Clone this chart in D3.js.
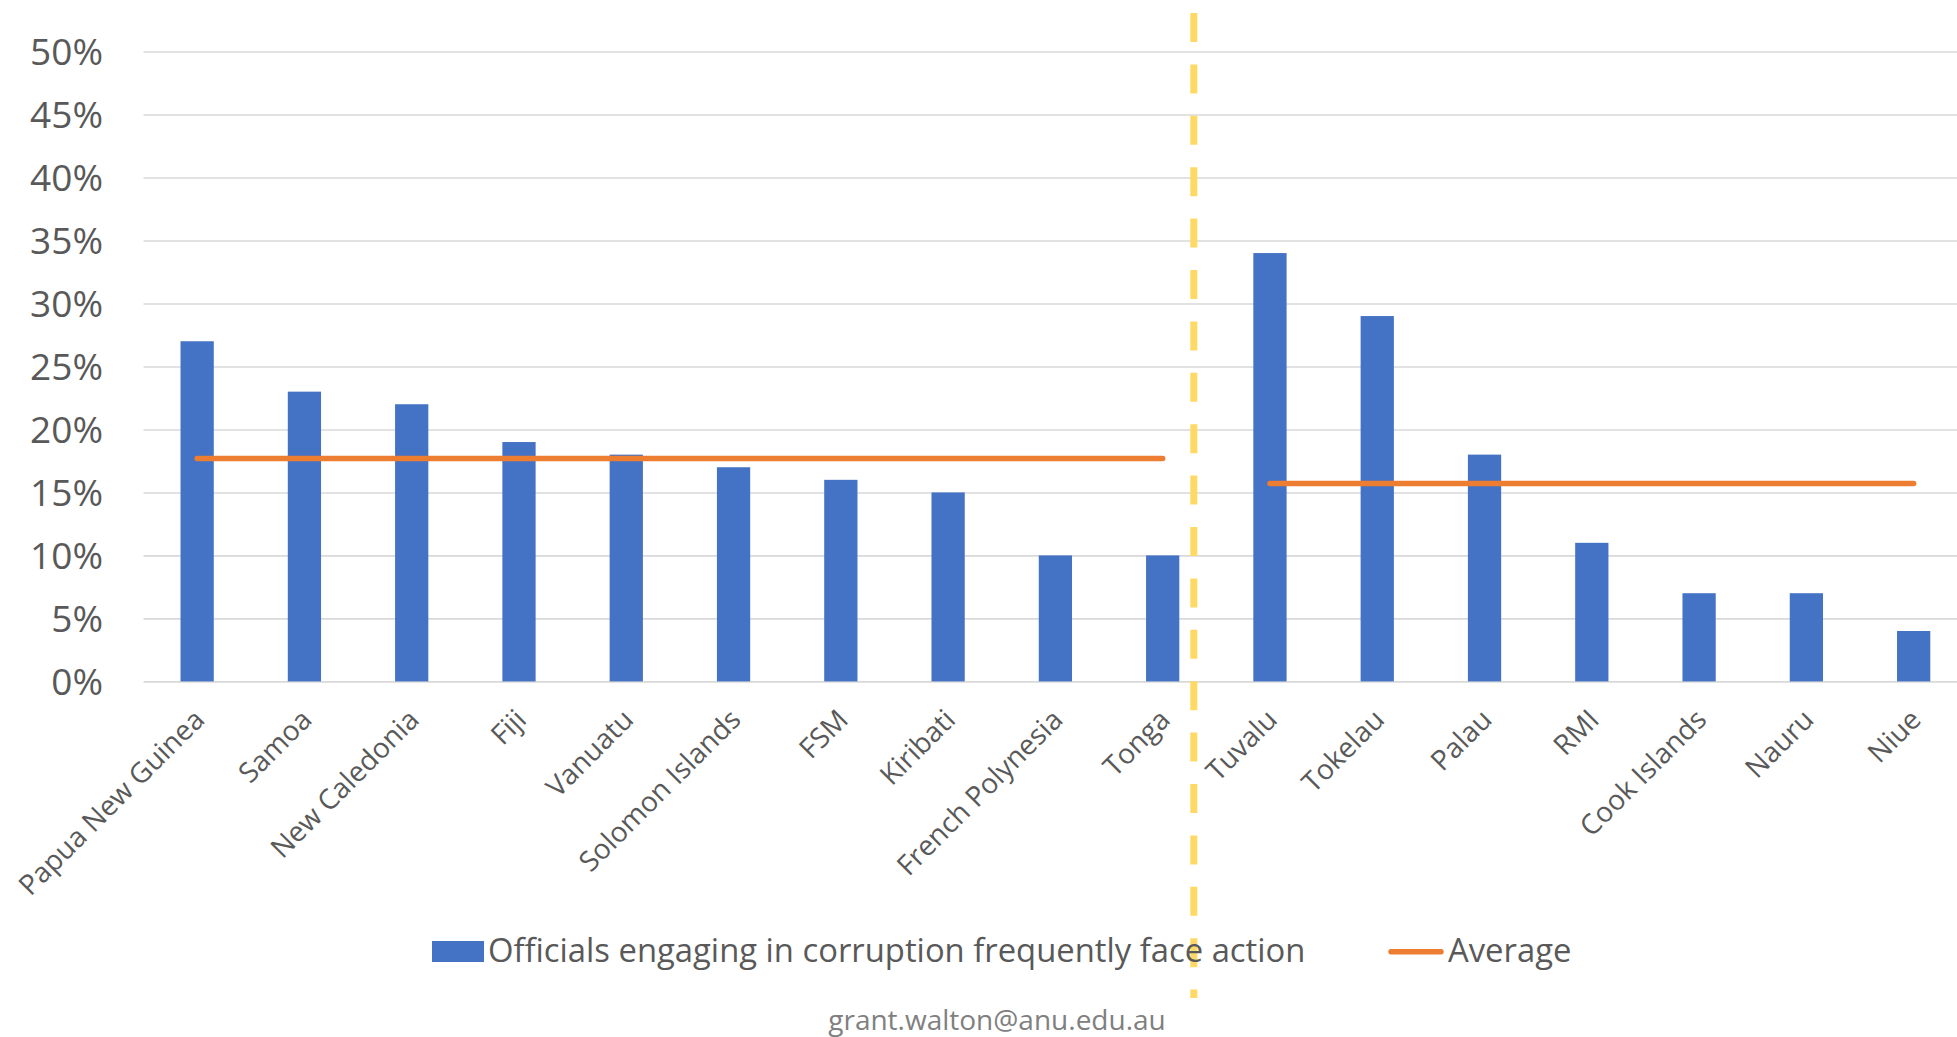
<!DOCTYPE html>
<html>
<head>
<meta charset="utf-8">
<script src="https://cdn.jsdelivr.net/npm/d3@7"></script>
<style>
  html, body { margin: 0; padding: 0; background: #fff; }
  svg { display: block; font-family: "Open Sans", "Noto Sans", sans-serif; }
</style>
</head>
<body>
<svg id="chart" width="1957" height="1037"></svg>
<script>
// Pacific countries, two groups split by the dashed divider
const countries = [
  "Papua New Guinea", "Samoa", "New Caledonia", "Fiji", "Vanuatu",
  "Solomon Islands", "FSM", "Kiribati", "French Polynesia", "Tonga",
  "Tuvalu", "Tokelau", "Palau", "RMI", "Cook Islands", "Nauru", "Niue"
];
// Share (%) saying officials engaging in corruption frequently face action
const actionShare = [27, 23, 22, 19, 18, 17, 16, 15, 10, 10, 34, 29, 18, 11, 7, 7, 4];
// Group membership and group averages (%)
const groupA = countries.slice(0, 10);
const groupB = countries.slice(10);
const groupAverages = [17.7, 15.7];
const yTicks = [0, 5, 10, 15, 20, 25, 30, 35, 40, 45, 50];
const seriesName = "Officials engaging in corruption frequently face action";
const averageName = "Average";
const footerText = "grant.walton@anu.edu.au";

const BLUE = "#4472C4", ORANGE = "#ED7D31", GOLD = "#FFD966", TEXT = "#595959";

const svg = d3.select("#chart");
const plot = { left: 143.5, right: 1967.3, top: 51.5, bottom: 681.4 };

const x = d3.scaleBand()
  .domain(countries)
  .range([plot.left, plot.right])
  .paddingInner(0.69)
  .paddingOuter(0.345);
const y = d3.scaleLinear().domain([0, 50]).range([plot.bottom, plot.top]);

// horizontal gridlines
svg.append("g")
  .attr("transform", `translate(${plot.left},0)`)
  .call(d3.axisLeft(y).tickValues(yTicks).tickSize(-(plot.right - plot.left)).tickFormat(""))
  .call(g => g.select(".domain").remove())
  .call(g => g.selectAll("line").attr("stroke", "#d9d9d9").attr("stroke-width", 1.6));

// y-axis labels
svg.append("g")
  .attr("transform", `translate(103,0)`)
  .call(d3.axisLeft(y).tickValues(yTicks).tickSize(0).tickPadding(0).tickFormat(d => d + "%"))
  .call(g => g.select(".domain").remove())
  .call(g => g.selectAll("text")
    .attr("fill", TEXT).attr("font-size", 37)
    .attr("font-family", "'Open Sans', sans-serif")
    .attr("dy", "0.36em"));

// bars
const data = countries.map((c, i) => ({ country: c, value: actionShare[i] }));
svg.append("g").selectAll("rect")
  .data(data)
  .join("rect")
  .attr("x", d => x(d.country))
  .attr("width", x.bandwidth())
  .attr("y", d => y(d.value))
  .attr("height", d => y(0) - y(d.value))
  .attr("fill", BLUE);

// category labels along the bottom
svg.append("g")
  .attr("transform", `translate(0,${plot.bottom})`)
  .call(d3.axisBottom(x).tickSize(0))
  .call(g => g.select(".domain").remove())
  .call(g => g.selectAll("text")
    .attr("fill", TEXT).attr("font-size", 28)
    .attr("font-family", "'Open Sans', sans-serif")
    .attr("text-anchor", "end")
    .attr("x", 0).attr("y", 0).attr("dy", 0)
    .attr("transform", "translate(9,40) rotate(-45)"));

// group average lines
const center = c => x(c) + x.bandwidth() / 2;
[groupA, groupB].forEach((grp, i) => {
  svg.append("path")
    .datum(grp)
    .attr("d", d3.line().x(c => center(c)).y(() => y(groupAverages[i])))
    .attr("fill", "none")
    .attr("stroke", ORANGE)
    .attr("stroke-width", 5.5)
    .attr("stroke-linecap", "round");
});

// dashed divider between the two groups
const dividerX = center("Tonga") + x.step() * 0.29;
svg.append("line")
  .attr("x1", dividerX).attr("x2", dividerX)
  .attr("y1", 13).attr("y2", 998)
  .attr("stroke", GOLD)
  .attr("stroke-width", 7)
  .attr("stroke-dasharray", "29,22.4");

// legend
const legend = svg.append("g");
legend.append("rect")
  .attr("x", 432).attr("y", 941).attr("width", 52).attr("height", 21)
  .attr("fill", BLUE);
legend.append("text")
  .attr("x", 488).attr("y", 962)
  .attr("font-size", 32.8).attr("fill", TEXT)
  .text(seriesName);
legend.append("line")
  .attr("x1", 1391).attr("x2", 1441).attr("y1", 951.7).attr("y2", 951.7)
  .attr("stroke", ORANGE).attr("stroke-width", 5.5).attr("stroke-linecap", "round");
legend.append("text")
  .attr("x", 1448).attr("y", 962)
  .attr("font-size", 32.8).attr("fill", TEXT)
  .text(averageName);

// footer
svg.append("text")
  .attr("x", 997).attr("y", 1030)
  .attr("text-anchor", "middle")
  .attr("font-size", 28).attr("fill", "#808080")
  .text(footerText);
</script>
</body>
</html>
